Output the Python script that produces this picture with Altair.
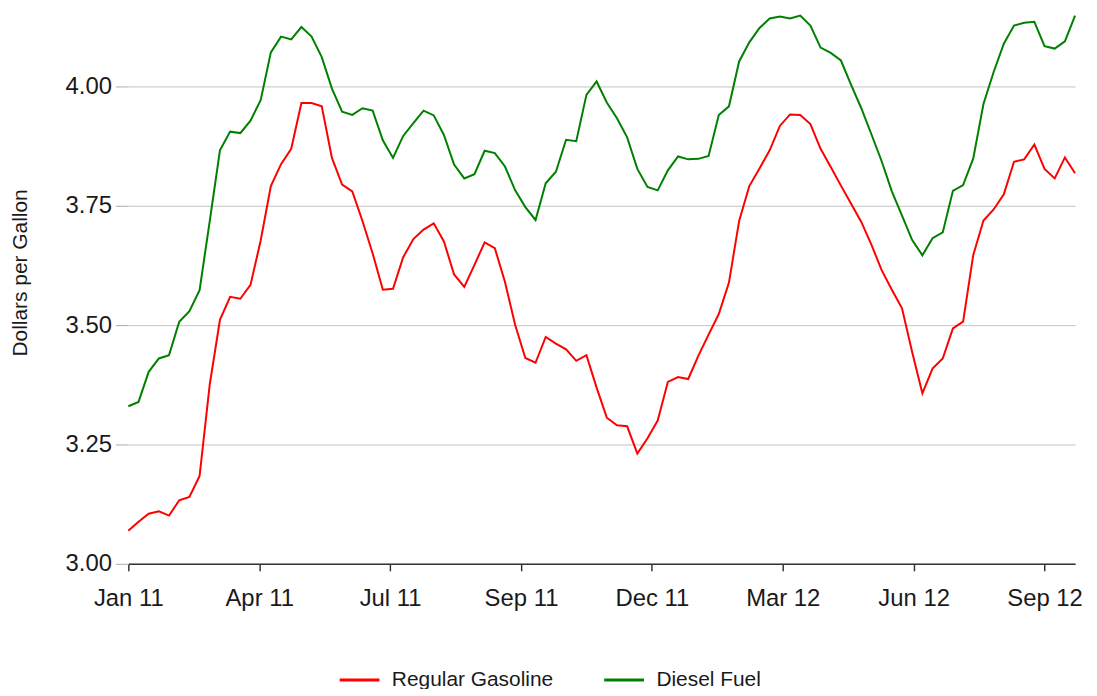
import altair as alt
import pandas as pd

# Weekly observations (Mondays) from Jan 3, 2011 to Oct 15, 2012
dates = pd.date_range("2011-01-03", periods=94, freq="7D").strftime("%Y-%m-%d").tolist()

gasoline = [
    3.069, 3.088, 3.105, 3.110, 3.101, 3.133, 3.140, 3.184, 3.376,
    3.511, 3.559, 3.555, 3.584, 3.677, 3.791, 3.837, 3.869,
    3.965, 3.965, 3.958, 3.850, 3.794, 3.780, 3.718, 3.650, 3.574,
    3.576, 3.642, 3.680, 3.700, 3.713, 3.675, 3.606, 3.580, 3.626,
    3.673, 3.661, 3.590, 3.500, 3.431, 3.421, 3.475, 3.461, 3.449,
    3.425, 3.437, 3.369, 3.306, 3.290, 3.288, 3.231, 3.263,
    3.300, 3.381, 3.391, 3.387, 3.436, 3.480, 3.523, 3.589, 3.718,
    3.791, 3.828, 3.866, 3.917, 3.941, 3.940, 3.921, 3.869, 3.831,
    3.792, 3.754, 3.716, 3.668, 3.615, 3.574, 3.535, 3.443,
    3.357, 3.409, 3.430, 3.493, 3.507, 3.647, 3.719, 3.742, 3.774,
    3.842, 3.847, 3.878, 3.827, 3.807, 3.851, 3.818,
]

diesel = [
    3.330, 3.339, 3.402, 3.430, 3.437, 3.507, 3.529, 3.573, 3.718,
    3.866, 3.905, 3.902, 3.928, 3.971, 4.071, 4.104, 4.098,
    4.124, 4.104, 4.061, 3.995, 3.947, 3.940, 3.954, 3.949, 3.887,
    3.850, 3.896, 3.923, 3.949, 3.939, 3.898, 3.836, 3.807, 3.816,
    3.865, 3.860, 3.832, 3.782, 3.747, 3.720, 3.797, 3.821, 3.888,
    3.885, 3.982, 4.010, 3.966, 3.933, 3.893, 3.827, 3.789,
    3.782, 3.824, 3.853, 3.847, 3.848, 3.854, 3.940, 3.958, 4.052,
    4.092, 4.122, 4.142, 4.146, 4.142, 4.148, 4.127, 4.081, 4.070,
    4.054, 4.003, 3.954, 3.899, 3.843, 3.780, 3.729, 3.678,
    3.646, 3.682, 3.694, 3.781, 3.793, 3.849, 3.963, 4.030, 4.089,
    4.127, 4.133, 4.135, 4.084, 4.079, 4.094, 4.148,
]

series_names = ["Regular Gasoline", "Diesel Fuel"]
series_colors = ["#ff0000", "#008000"]

# x ticks every 90 days from the first observation
tick_dates = pd.date_range("2011-01-03", periods=8, freq="90D")
y_ticks = [3.00, 3.25, 3.50, 3.75, 4.00]

df = pd.DataFrame({
    "date": dates + dates,
    "price": gasoline + diesel,
    "series": [series_names[0]] * len(dates) + [series_names[1]] * len(dates),
})

FONT = "Arial, Liberation Sans, sans-serif"
TEXT = "#1a1a1a"

x_values = [alt.DateTime(year=d.year, month=d.month, date=d.day, utc=True) for d in tick_dates]
first = pd.Timestamp(dates[0])
last = pd.Timestamp(dates[-1])

chart = alt.Chart(df).mark_line(strokeWidth=2).encode(
    x=alt.X(
        "date:T",
        scale=alt.Scale(
            type="utc",
            domain=[
                alt.DateTime(year=first.year, month=first.month, date=first.day, utc=True),
                alt.DateTime(year=last.year, month=last.month, date=last.day, utc=True),
            ],
        ),
        axis=alt.Axis(
            values=x_values,
            labelExpr="utcFormat(datum.value, '%b %y')",
            title=None,
            grid=False,
            domainColor="#333333",
            domainWidth=1.5,
            tickColor="#333333",
            tickWidth=1.5,
            tickSize=7,
            labelFontSize=24,
            labelColor=TEXT,
            labelPadding=16,
            labelFont=FONT,
            labelFlush=False,
            labelOverlap=False,
        ),
    ),
    y=alt.Y(
        "price:Q",
        scale=alt.Scale(domain=[3.0, 4.16], nice=False, zero=False),
        axis=alt.Axis(
            values=y_ticks,
            format=".2f",
            title="Dollars per Gallon",
            titleFont=FONT,
            titleFontSize=21,
            titleFontWeight="normal",
            titleColor=TEXT,
            titleAngle=270,
            titleX=-108,
            titleY=264,
            titleAlign="center",
            titleBaseline="middle",
            domain=False,
            tickColor="#aaaaaa",
            tickSize=13,
            gridColor="#c4c4c4",
            gridWidth=1,
            labelFontSize=24,
            labelColor=TEXT,
            labelPadding=4,
            labelFont=FONT,
        ),
    ),
    color=alt.Color(
        "series:N",
        scale=alt.Scale(domain=series_names, range=series_colors),
        legend=alt.Legend(
            orient="none",
            legendX=211,
            legendY=652,
            direction="horizontal",
            title=None,
            symbolType="stroke",
            symbolSize=1600,
            symbolStrokeWidth=3,
            labelFontSize=21,
            labelFont=FONT,
            labelColor=TEXT,
            labelOffset=11,
            labelLimit=400,
            columnPadding=44,
        ),
    ),
).properties(
    width=952,
    height=557,
    autosize=alt.AutoSizeParams(type="none"),
    padding={"left": 121, "top": 0, "right": 14, "bottom": 124},
).configure_view(stroke=None)

chart.save("out.html", embed_options={"renderer": "svg", "actions": False})
